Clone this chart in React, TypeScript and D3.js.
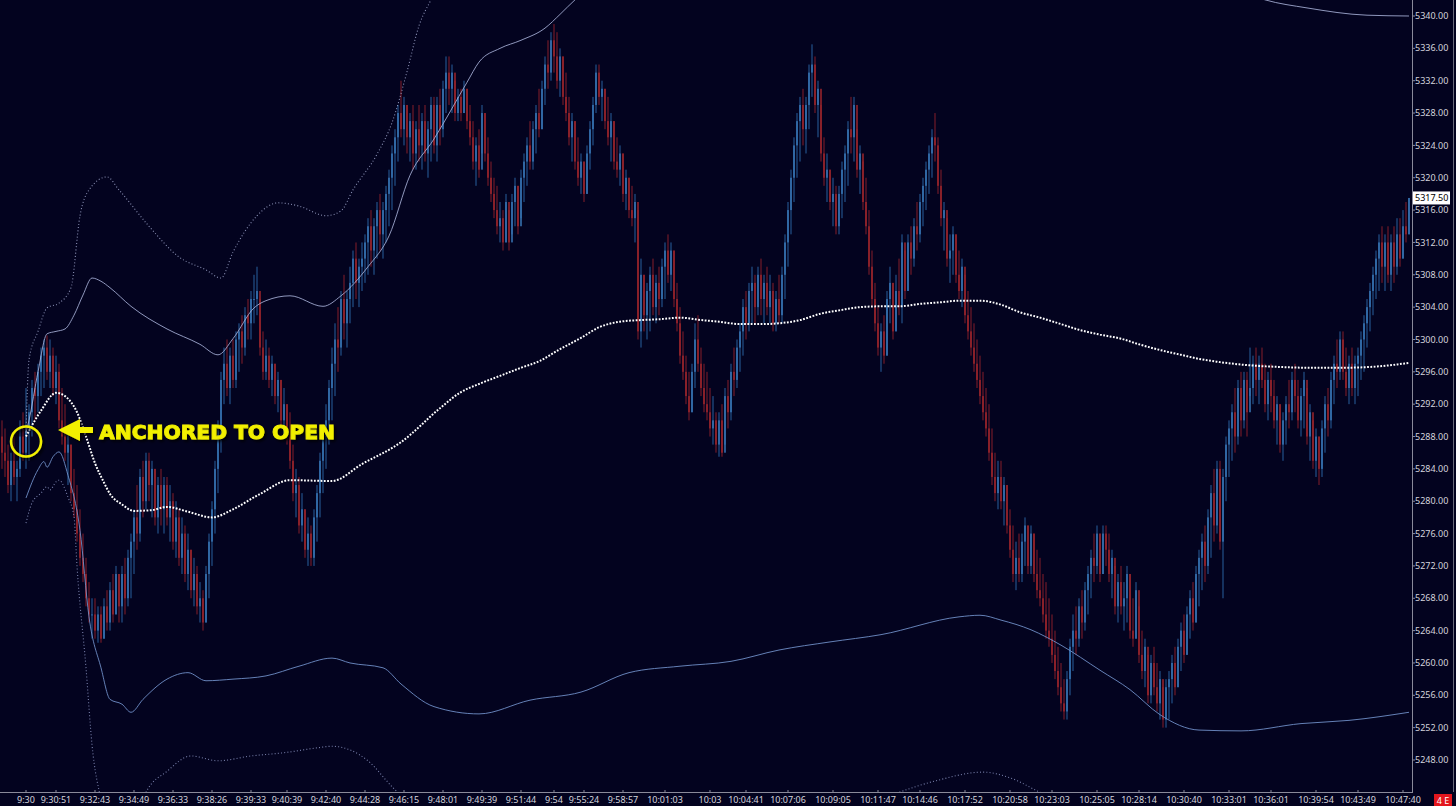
import React from 'react';
import * as d3 from 'd3';

// ---------- DATA ----------
const firstOpen = 5288;
// one entry per bar: [low, high, close]; open = previous close
const bars: [number, number, number][] = [
  [5284,5290,5286],[5283,5289,5285],[5281,5287,5282],[5280,5286,5285],[5282,5288,5283],[5280,5285,5284],[5283,5290,5288],[5285,5291,5286],[5284,5294,5289],[5285,5292,5291],
  [5288,5295,5294],[5290,5296,5293],[5291,5297,5296],[5293,5299,5298],[5294,5300,5299],[5295,5300.5,5296],[5294,5300,5298],[5293,5299,5294],[5292,5298,5296],[5289,5297,5290],
  [5287,5294,5288],[5285,5292,5286],[5282,5289,5287],[5280,5287,5281],[5278,5284,5279],[5275,5282,5276],[5272,5279,5273],[5270,5276,5271],[5267,5273,5268],[5265,5270,5266],
  [5263,5268,5266],[5263,5268,5264],[5262.5,5267,5266],[5262.5,5267,5263],[5263,5268,5267],[5264,5269,5265],[5264,5270,5269],[5265,5271,5266],[5266,5272,5271],[5265,5271,5267],
  [5265,5272,5271],[5266,5273,5268],[5267,5274,5273],[5268,5276,5275],[5271,5279,5278],[5274,5282,5276],[5275,5284,5283],[5278,5285,5280],[5279,5286,5285],[5280,5286,5282],
  [5278,5285,5284],[5277,5284,5278],[5276,5283,5282],[5277,5284,5279],[5276,5283,5282],[5277,5283,5278],[5275,5282,5280],[5274,5281,5275],[5273,5280,5278],[5272,5279,5273],
  [5271,5278,5276],[5270,5277,5271],[5269,5276,5274],[5268,5274,5269],[5267,5273,5271],[5266,5272,5267],[5265,5270,5268],[5264,5269,5265],[5265,5272,5271],[5268,5276,5275],
  [5272,5280,5279],[5276,5285,5284],[5281,5290,5289],[5286,5296,5295],[5292,5299,5297],[5293,5300,5294],[5292,5299,5298],[5294,5300,5295],[5294,5301,5300],[5296,5302,5301],
  [5297,5303,5299],[5298,5304,5303],[5300,5305,5302],[5300,5306,5305],[5302,5308,5305],[5303,5309,5306],[5298,5305,5299],[5295,5301,5296],[5295,5300,5298],[5294,5299,5295],
  [5293,5298,5297],[5292,5297,5293],[5291,5296,5295],[5289,5295,5290],[5288,5294,5292],[5287,5292,5288],[5284,5291,5285],[5280,5287,5281],[5278,5284,5282],[5276,5283,5277],
  [5275,5281,5279],[5273,5279,5274],[5272,5278,5276],[5272,5277,5273],[5272,5279,5278],[5275,5282,5281],[5278,5286,5285],[5281,5289,5288],[5284,5292,5290],[5287,5295,5294],
  [5290,5299,5297],[5293,5302,5300],[5296,5304,5299],[5298,5306,5305],[5300,5308,5302],[5299,5306,5305],[5302,5309,5307],[5304,5311,5310],[5305,5312,5307],[5304,5310,5309],
  [5306,5312,5310],[5307,5313,5312],[5308,5315,5314],[5309,5316,5311],[5308,5315,5314],[5310,5317,5316],[5311,5318,5313],[5310,5317,5316],[5312,5319,5318],[5314,5321,5320],
  [5316,5324,5323],[5319,5326,5325],[5322,5329,5328],[5325,5332,5326],[5324,5330,5329],[5323,5329,5325],[5322,5328,5327],[5321,5329,5323],[5321,5327,5326],[5322,5329,5324],
  [5321,5328,5327],[5322,5329,5323],[5320,5327,5326],[5322,5330,5329],[5323,5330,5324],[5322,5330,5329],[5324,5331,5326],[5325,5332,5331],[5328,5335,5333],[5329,5335,5331],
  [5328,5334,5333],[5327,5332,5328],[5327,5331,5330],[5327,5331,5328],[5328,5332,5331],[5326,5331,5327],[5324,5329,5325],[5321,5327,5322],[5319,5325,5324],[5320,5326,5321],
  [5323,5329,5328],[5322,5328,5323],[5319,5325,5320],[5317,5322,5318],[5315,5320,5316],[5313,5319,5314],[5312,5317,5315],[5311,5316,5312],[5312,5318,5317],[5311,5316,5312],
  [5313,5318,5317],[5314,5320,5319],[5313,5319,5314],[5315,5321,5320],[5317,5323,5322],[5319,5325,5324],[5321,5327,5322],[5321,5327,5326],[5323,5329,5328],[5325,5331,5326],
  [5326,5332,5331],[5329,5335,5334],[5331,5337,5333],[5332,5338,5337],[5333,5339,5335],[5331,5338,5332],[5330,5336,5335],[5329,5335,5330],[5327,5333,5328],[5324,5330,5325],
  [5322,5328,5327],[5321,5327,5322],[5319,5325,5320],[5318,5323,5322],[5317,5322,5318],[5318,5324,5323],[5321,5327,5326],[5324,5330,5329],[5328,5334,5333],[5329,5334,5330],
  [5327,5332,5331],[5326,5331,5327],[5324,5330,5325],[5322,5328,5327],[5321,5327,5322],[5320,5325,5321],[5319,5324,5323],[5317,5323,5318],[5316,5321,5320],[5315,5320,5316],
  [5314,5319,5315],[5312,5318,5317],[5300,5316,5301],[5299,5310,5308],[5301,5308,5303],[5300,5307,5306],[5301,5309,5308],[5303,5310,5304],[5302,5308,5307],[5303,5309,5305],
  [5304,5310,5309],[5305,5312,5311],[5307,5313,5308],[5306,5312,5311],[5304,5311,5305],[5301,5307,5302],[5297,5304,5298],[5295,5301,5296],[5292,5298,5293],[5290,5296,5291],
  [5291,5297,5296],[5294,5302,5300],[5296,5303,5297],[5293,5299,5294],[5291,5297,5292],[5290,5296,5291],[5288,5294,5289],[5287,5293,5290],[5286,5291,5287],[5285.5,5291,5290],
  [5285.5,5292,5286],[5287,5294,5293],[5289,5295,5291],[5290,5297,5296],[5293,5299,5295],[5294,5300,5299],[5296,5302,5301],[5298,5305,5304],[5300,5306,5302],[5301,5307,5306],
  [5302,5309,5307],[5302,5308,5304],[5303,5309,5308],[5303,5310,5305],[5302,5308,5307],[5303,5309,5304],[5302,5308,5306],[5301,5307,5302],[5301,5306,5305],[5302,5308,5303],
  [5302,5309,5308],[5305,5313,5312],[5309,5317,5316],[5313,5321,5320],[5317,5325,5324],[5320,5328,5327],[5322,5330,5329],[5324,5331,5326],[5323,5330,5329],[5326,5334,5333],
  [5330,5336.5,5334],[5328,5335,5329],[5325,5332,5331],[5322,5329,5323],[5319,5325,5320],[5317,5323,5321],[5316,5321,5317],[5314,5320,5318],[5313,5319,5314],[5313,5319,5318],
  [5315,5322,5321],[5317,5324,5323],[5319,5327,5326],[5323,5330,5325],[5322,5330,5329],[5320,5326,5321],[5318,5324,5323],[5316,5322,5317],[5313,5320,5314],[5308,5316,5309],
  [5304,5311,5305],[5301,5307,5302],[5298,5304,5299],[5296,5302,5301],[5297,5303,5298],[5298,5306,5305],[5302,5309,5307],[5300,5307,5301],[5301,5308,5306],[5303,5310,5304],
  [5302,5313,5312],[5305,5311,5306],[5306,5313,5312],[5308,5314,5310],[5309,5315,5314],[5311,5317,5313],[5312,5318,5317],[5314,5320,5319],[5316,5322,5321],[5318,5324,5323],
  [5320,5326,5325],[5322,5328,5324],[5318,5325,5319],[5314,5321,5315],[5311,5317,5316],[5309,5315,5310],[5307,5313,5311],[5308,5314,5313],[5307,5313,5308],[5305,5311,5306],
  [5304,5310,5309],[5302,5308,5303],[5300,5306,5301],[5298,5304,5299],[5296,5302,5297],[5294,5300,5295],[5292,5298,5293],[5290,5296,5291],[5288,5294,5289],[5285,5292,5286],
  [5282,5289,5283],[5280,5286,5281],[5279,5285,5283],[5279,5285,5280],[5277,5283,5282],[5276,5282,5277],[5273,5279,5274],[5270,5277,5271],[5269,5275,5273],[5270,5276,5271],
  [5270,5276,5275],[5272,5278,5277],[5271,5277,5272],[5271,5277,5276],[5270,5276,5271],[5268,5274,5269],[5267,5273,5268],[5265,5271,5266],[5263,5270,5264],[5262,5268,5263],
  [5260,5266,5261],[5258,5264,5259],[5256,5262,5257],[5254,5260,5255],[5253,5258,5254],[5253,5259,5258],[5256,5263,5262],[5259,5266,5264],[5261,5267,5263],[5262,5268,5267],
  [5263,5269,5265],[5264,5270,5269],[5266,5272,5271],[5268,5274,5273],[5270,5276,5272],[5271,5277,5276],[5270,5276,5271],[5271,5277,5276],[5272,5277,5274],[5270,5276,5271],
  [5268,5274,5273],[5266,5272,5267],[5265,5271,5270],[5266,5272,5267],[5264,5270,5268],[5265,5272,5271],[5263,5271,5264],[5262,5268,5263],[5263,5270,5269],[5260,5267,5261],
  [5258,5264,5259],[5257,5263,5262],[5255,5261,5256],[5255,5261,5260],[5256,5262,5257],[5254,5260,5255],[5253,5259,5258],[5252,5257,5253],[5252,5258,5257],[5253,5259,5258],
  [5255,5261,5260],[5256,5262,5257],[5257,5263,5262],[5259,5265,5264],[5260,5266,5261],[5261,5267,5266],[5263,5269,5268],[5264,5270,5265],[5265,5272,5271],[5267,5274,5273],
  [5269,5276,5275],[5270,5277,5272],[5271,5279,5278],[5273,5282,5281],[5275,5284,5277],[5276,5285,5284],[5274,5285,5275],[5268,5284,5283],[5280,5288,5287],[5283,5290,5289],
  [5285,5292,5291],[5286,5294,5288],[5287,5295,5294],[5288,5296,5290],[5289,5296,5295],[5288,5296,5291],[5293,5299,5294],[5292,5298,5297],[5293,5299,5295],[5292,5298,5297],
  [5294,5299,5295],[5291,5297,5292],[5290,5296,5295],[5291,5297,5293],[5289,5295,5290],[5287,5293,5292],[5286,5292,5287],[5285,5291,5290],[5287,5293,5292],[5289,5295,5291],
  [5290,5296,5295],[5291,5297,5293],[5289,5295,5290],[5288,5294,5293],[5289,5296,5295],[5287,5294,5288],[5285,5292,5291],[5284,5290,5285],[5283,5289,5288],[5282,5288,5284],
  [5283,5290,5289],[5286,5293,5292],[5288,5294,5290],[5289,5296,5295],[5292,5298,5297],[5294,5300,5296],[5295,5301,5300],[5295,5301,5296],[5293,5299,5294],[5292,5298,5297],
  [5293,5299,5294],[5292,5298,5297],[5293,5299,5298],[5295,5301,5300],[5296,5303,5302],[5299,5305,5304],[5301,5307,5306],[5303,5309,5308],[5305,5311,5310],[5306,5313,5312],
  [5307,5314,5309],[5306,5313,5312],[5307,5314,5308],[5306,5313,5312],[5307,5314,5309],[5308,5315,5313],[5309,5315,5310],[5310,5316,5314],[5312,5317,5313],[5313,5317.5,5317.5],
];

// [bar index, price]
const vwapPoints: [number, number][] = [
  [8,5288],[13,5291.2],[18,5293.4],[21,5293],[25,5291],[28,5288],[31,5284.7],[34,5282.3],[36,5280.9],[40,5279.6],[44,5278.8],[50,5278.9],
  [55,5279.3],[62,5278.7],[70,5278],[77,5279],[86,5280.9],[96,5282.6],[110,5282.5],[120,5284.6],[133,5287.3],[146,5291.5],[153,5293.5],
  [159,5294.5],[166,5295.5],[173,5296.5],[179,5297.3],[186,5298.8],[193,5300.2],[199,5301.5],[206,5302.2],[213,5302.4],[219,5302.5],
  [226,5302.7],[233,5302.4],[239,5302.2],[246,5301.9],[253,5301.9],[259,5302],[266,5302.4],[273,5303.2],[279,5303.6],[286,5304],
  [293,5304.1],[299,5304.1],[306,5304.4],[313,5304.6],[319,5304.8],[326,5304.8],[333,5304.3],[339,5303.4],[346,5302.7],[353,5301.9],
  [359,5301.2],[366,5300.6],[373,5300.1],[379,5299.4],[386,5298.7],[393,5298.1],[399,5297.6],[406,5297.2],[416,5296.8],[426,5296.6],
  [436,5296.5],[446,5296.5],[456,5296.6],[469,5297.1],
];
const upperBand1: [number, number][] = [
  [8,5288.5],[9,5290],[12,5296],[15,5300.7],[18,5301],[21,5301.3],[24,5303],[27,5305.5],[30,5307.6],[33,5307.2],[36,5306.4],[43,5304.1],
  [55,5301.3],[66,5299.4],[72,5298.1],[77,5300.1],[84,5303.9],[88,5304.8],[96,5305.4],[107,5304.1],[113,5305.4],[122,5309],[129,5312.8],
  [136,5320.3],[144,5324.8],[155,5331.8],[159,5334.3],[166,5336],[173,5337],[181,5338.5],[186,5340.2],[191,5342],[210,5346],[300,5348],
  [380,5346],[410,5343.5],[421,5342],[435,5341],[455,5340.1],[469,5340],
];
const upperBand2: [number, number][] = [
  [8,5288.5],[9,5297.5],[12,5301],[15,5303.9],[19,5304.5],[23,5306.4],[26,5315.3],[29,5318.5],[35,5320.1],[39,5318.5],[49,5314],[59,5310.2],
  [68,5308.6],[73,5307.6],[77,5310.8],[85,5315.3],[92,5316.9],[99,5316.5],[108,5315.3],[113,5315.9],[117,5318.5],[125,5322.9],[130,5326.8],
  [135,5333.1],[139,5338.8],[143,5342],[160,5352],[250,5360],[400,5362],[469,5358],
];
const lowerBand1: [number, number][] = [
  [8,5280.4],[12,5283.9],[14,5284.9],[15,5284.2],[17,5285.5],[19,5286.1],[22,5283.2],[26,5276.4],[29,5265.7],[33,5259.4],[36,5255.5],
  [40,5254.9],[43,5253.9],[47,5255.5],[55,5258],[62,5258.8],[68,5257.8],[77,5258],[88,5258.4],[99,5259.6],[110,5260.6],[116,5260],
  [127,5259.4],[133,5257.4],[144,5254.6],[159,5253.7],[176,5255.4],[193,5256.4],[209,5258.8],[226,5259.6],[243,5260.2],[259,5261.6],
  [276,5262.6],[293,5263.5],[319,5265.7],[326,5265.9],[333,5265.3],[343,5264.1],[353,5262.2],[366,5259.1],[376,5256.7],[386,5253.6],
  [399,5251.7],[413,5251.6],[433,5252.5],[449,5252.9],[469,5253.9],
];
const lowerBand2: [number, number][] = [
  [8,5277.3],[10,5279.8],[13,5281],[15,5281.8],[16,5281.4],[18,5282.4],[19,5282.6],[22,5280.5],[24,5278.1],[25,5272],[28,5259.4],
  [30,5249.9],[33,5243],[38,5236],[43,5236],[48,5244],[55,5246.6],[63,5248.5],[72,5247.9],[83,5248.5],[94,5248.9],[105,5249.5],
  [110,5249.7],[122,5247.9],[130,5244.7],[133,5243.6],[145,5240],[200,5238],[280,5241],[299,5244],[312,5245.5],[327,5246.5],
  [336,5245.8],[346,5244],[380,5238],[469,5234],
];

const priceTicks = [5248,5252,5256,5260,5264,5268,5272,5276,5280,5284,5288,5292,5296,5300,5304,5308,5312,5316,5320,5324,5328,5332,5336,5340];
const timeLabels = ['9:30','9:30:51','9:32:43','9:34:49','9:36:33','9:38:26','9:39:33','9:40:39','9:42:40','9:44:28','9:46:15','9:48:01','9:49:39',
  '9:51:44','9:54','9:55:24','9:58:57','10:01:03','10:03','10:04:41','10:07:06','10:09:05','10:11:47','10:14:46','10:17:52',
  '10:20:58','10:23:03','10:25:05','10:28:14','10:30:40','10:33:01','10:36:01','10:39:54','10:43:49','10:47:40'];
const timeLabelBars = [8,18,31,44,57,70,83,95,108,121,134,147,160,173,184,194,207,221,236,248,262,277,292,306,321,336,350,365,379,394,409,423,438,452,467];
const lastPrice = 5317.5;
const openBar = 8;
const openPrice = 5288;
const annotationText = 'ANCHORED TO OPEN';

// ---------- CHART ----------
const W = 1456;
const H = 806;
const plotRight = 1412;
const plotBottom = 792;
const BG = '#03031f';
const AXIS = '#8a8a9a';
const TEXT = '#d4d4dc';
const FONT = '"Noto Sans", "Open Sans", sans-serif';
const YELLOW = '#f2f000';

export default function App() {
  const x = d3.scaleLinear().domain([0, bars.length - 1]).range([2, 1409]);
  const y = d3.scaleLinear().domain([5248, 5340]).range([760, 16]);
  const line = d3
    .line<[number, number]>()
    .x((d) => x(d[0]))
    .y((d) => y(d[1]))
    .curve(d3.curveMonotoneX);

  const cx = x(openBar);
  const cy = y(openPrice) + 5;

  return (
    <svg
      width={W}
      height={H}
      style={{ position: 'fixed', left: 0, top: 0, display: 'block' }}
      fontFamily={FONT}
    >
      <defs>
        <clipPath id="plot">
          <rect x={0} y={0} width={plotRight} height={plotBottom} />
        </clipPath>
        <filter id="shadow" x="-20%" y="-50%" width="140%" height="200%">
          <feDropShadow dx="2" dy="2" stdDeviation="1.5" floodColor="#000000" floodOpacity="0.9" />
        </filter>
      </defs>
      <rect x={0} y={0} width={W} height={H} fill={BG} />

      <g clipPath="url(#plot)">
        {/* bars */}
        {bars.map((b, i) => {
          const open = i === 0 ? firstOpen : bars[i - 1][2];
          const close = b[2];
          const up = close >= open;
          const bx = x(i);
          const top = y(Math.max(open, close));
          const bot = y(Math.min(open, close));
          return (
            <g key={i}>
              <rect
                x={bx - 0.8}
                y={y(b[1])}
                width={1.6}
                height={Math.max(1, y(b[0]) - y(b[1]))}
                fill={up ? '#22508a' : '#701a28'}
                opacity={0.75}
              />
              <rect
                x={bx - 0.8}
                y={top}
                width={1.6}
                height={Math.max(1, bot - top)}
                fill={up ? '#3c7cbe' : '#a4282e'}
                opacity={0.9}
              />
            </g>
          );
        })}

        {/* bands */}
        <path d={line(upperBand2) || ''} fill="none" stroke="#a3aad0" strokeWidth={1.1} strokeDasharray="1 2.2" opacity={0.85} />
        <path d={line(lowerBand2) || ''} fill="none" stroke="#8e98c4" strokeWidth={1.1} strokeDasharray="1 2.2" opacity={0.85} />
        <path d={line(upperBand1) || ''} fill="none" stroke="#a8b2d8" strokeWidth={1} opacity={0.85} />
        <path d={line(lowerBand1) || ''} fill="none" stroke="#6f8ec6" strokeWidth={1} opacity={0.9} />

        {/* VWAP */}
        <path d={line(vwapPoints) || ''} fill="none" stroke="#ffffff" strokeWidth={2} strokeDasharray="1.8 1.5" />
      </g>

      {/* annotation */}
      <g filter="url(#shadow)">
        <circle cx={cx} cy={cy} r={15} fill="none" stroke={YELLOW} strokeWidth={2.5} />
        <polygon points="58,430 80,419 80,427 93,427 93,433 80,433 80,441" fill={YELLOW} />
        <text
          x={99}
          y={438.5}
          fill={YELLOW}
          stroke={YELLOW}
          strokeWidth={0.8}
          fontFamily='"DejaVu Sans", sans-serif'
          fontWeight={900}
          fontSize={19}
          textLength={236}
          lengthAdjust="spacingAndGlyphs"
        >
          {annotationText}
        </text>
      </g>

      {/* right axis */}
      <line x1={plotRight + 0.5} x2={plotRight + 0.5} y1={0} y2={plotBottom} stroke={AXIS} strokeWidth={1} />
      <line x1={1453.5} x2={1453.5} y1={0} y2={plotBottom} stroke="#6a6a7a" strokeWidth={1} />
      {priceTicks.map((p) => (
        <g key={p}>
          <line x1={plotRight} x2={plotRight + 3} y1={y(p)} y2={y(p)} stroke={AXIS} />
          <text x={plotRight + 3} y={y(p)} dy="0.35em" fill={TEXT} fontSize={9}>
            {p.toFixed(2)}
          </text>
        </g>
      ))}
      <rect x={plotRight + 1} y={y(lastPrice) - 6.5} width={37} height={13} fill="#ffffff" />
      <text x={plotRight + 3} y={y(lastPrice)} dy="0.35em" fill="#000000" fontSize={9}>
        {lastPrice.toFixed(2)}
      </text>

      {/* bottom axis */}
      <line x1={0} x2={plotRight + 1} y1={plotBottom + 0.5} y2={plotBottom + 0.5} stroke={AXIS} strokeWidth={1} />
      {timeLabels.map((t, k) => (
        <g key={t}>
          <line x1={x(timeLabelBars[k])} x2={x(timeLabelBars[k])} y1={plotBottom - 2} y2={plotBottom} stroke={AXIS} />
          <text x={x(timeLabelBars[k])} y={803} textAnchor="middle" fill={TEXT} fontSize={9}>
            {t}
          </text>
        </g>
      ))}
      <rect x={1434} y={794} width={18} height={12} fill="#e3161d" />
      <text x={1443} y={804} textAnchor="middle" fill="#ffffff" fontSize={9}>
        4 E
      </text>
    </svg>
  );
}
